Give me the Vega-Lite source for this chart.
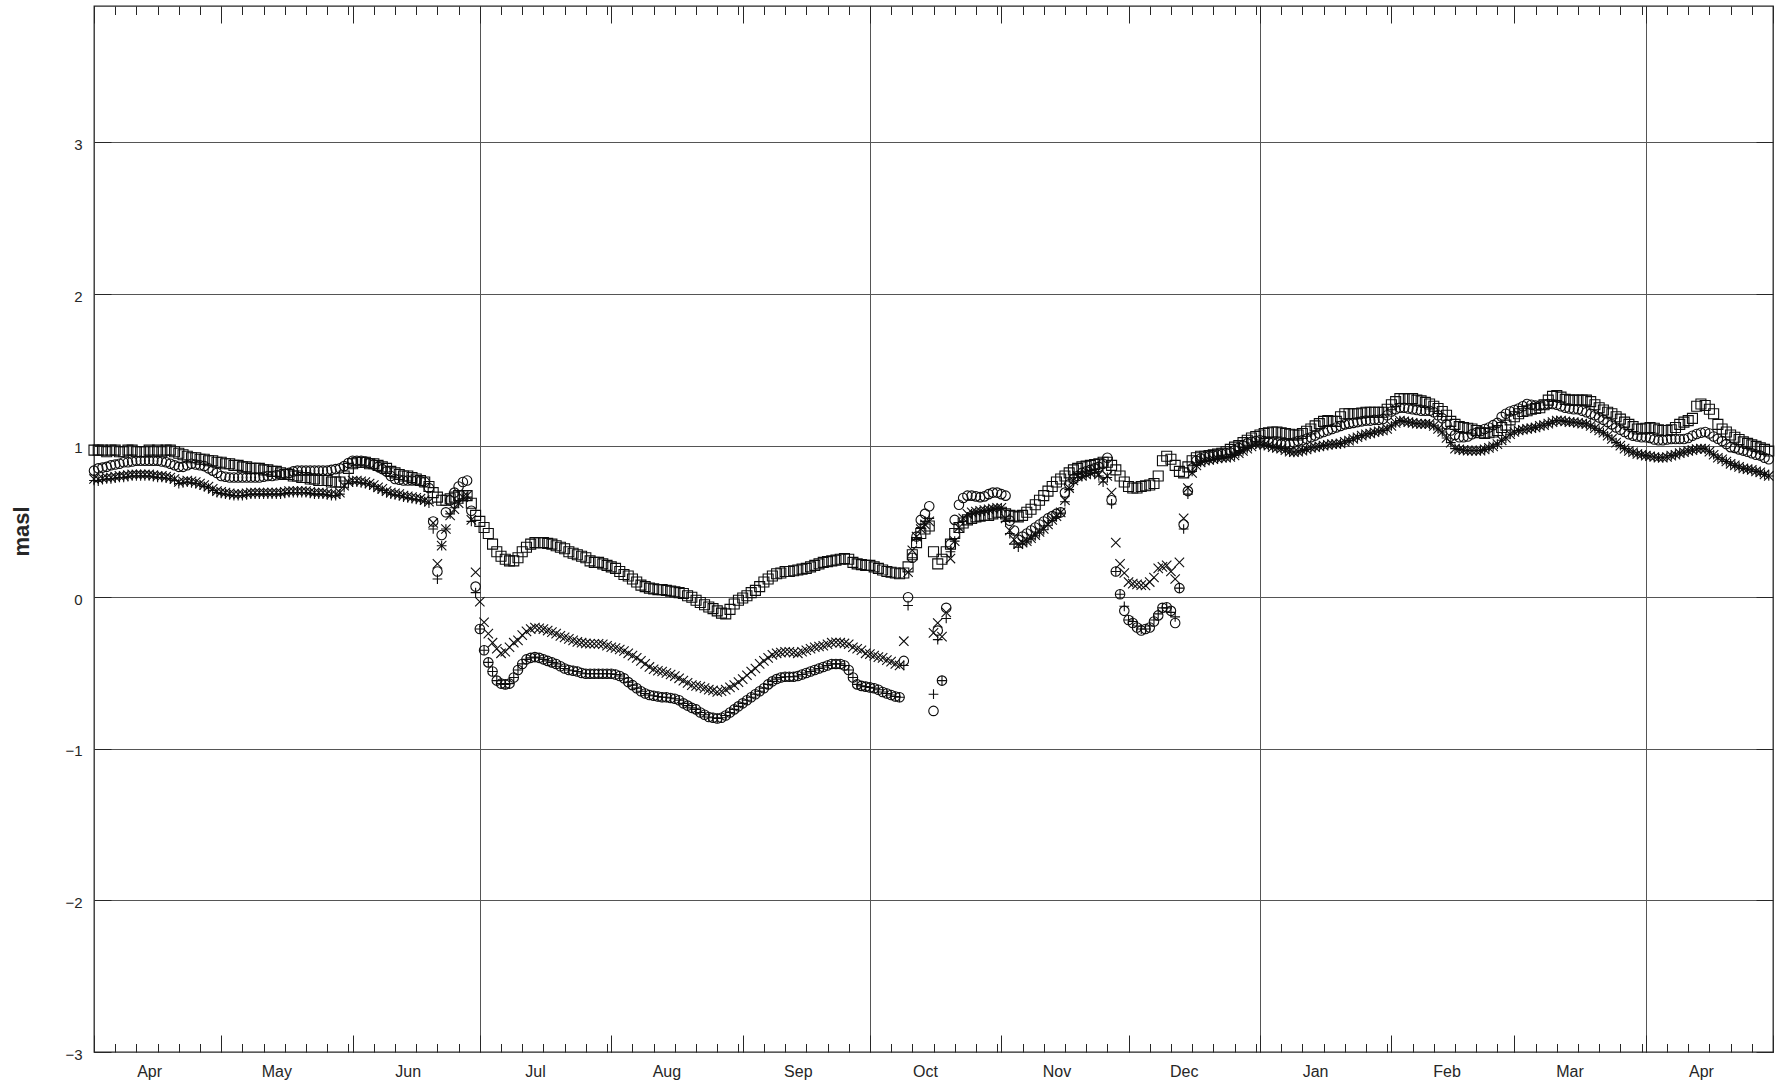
{
  "$schema": "https://vega.github.io/schema/vega-lite/v6.json",
  "width": 1679,
  "height": 1046,
  "autosize": {"type": "none"},
  "padding": {"left": 94, "top": 6, "right": 2, "bottom": 35},
  "background": "white",
  "config": {
    "view": {"stroke": "#262626", "strokeWidth": 1.3},
    "axis": {
      "labelFont": "Liberation Sans",
      "titleFont": "Liberation Sans",
      "labelColor": "#262626",
      "titleColor": "#262626",
      "tickColor": "#262626",
      "tickWidth": 1,
      "domain": false,
      "grid": false,
      "labels": false,
      "ticks": false
    }
  },
  "datasets": {
    "frame": [{"t": "2019-04-01", "v": 0}],
    "levels": [
      {"t":"2019-04-01","s":0.97,"c":0.835,"x":0.78,"p":0.77},
      {"t":"2019-04-02","s":0.97,"c":0.85,"x":0.78,"p":0.765},
      {"t":"2019-04-03","s":0.97,"c":0.855,"x":0.785,"p":0.775},
      {"t":"2019-04-04","s":0.96,"c":0.86,"x":0.79,"p":0.78},
      {"t":"2019-04-05","s":0.97,"c":0.87,"x":0.79,"p":0.78},
      {"t":"2019-04-06","s":0.97,"c":0.875,"x":0.795,"p":0.785},
      {"t":"2019-04-07","s":0.96,"c":0.88,"x":0.8,"p":0.79},
      {"t":"2019-04-08","s":0.96,"c":0.89,"x":0.8,"p":0.79},
      {"t":"2019-04-09","s":0.97,"c":0.89,"x":0.805,"p":0.795},
      {"t":"2019-04-10","s":0.97,"c":0.895,"x":0.81,"p":0.8},
      {"t":"2019-04-11","s":0.96,"c":0.9,"x":0.81,"p":0.8},
      {"t":"2019-04-12","s":0.96,"c":0.9,"x":0.81,"p":0.8},
      {"t":"2019-04-13","s":0.96,"c":0.9,"x":0.81,"p":0.8},
      {"t":"2019-04-14","s":0.97,"c":0.9,"x":0.81,"p":0.8},
      {"t":"2019-04-15","s":0.96,"c":0.9,"x":0.805,"p":0.795},
      {"t":"2019-04-16","s":0.97,"c":0.9,"x":0.8,"p":0.79},
      {"t":"2019-04-17","s":0.96,"c":0.895,"x":0.8,"p":0.79},
      {"t":"2019-04-18","s":0.97,"c":0.89,"x":0.795,"p":0.785},
      {"t":"2019-04-19","s":0.97,"c":0.88,"x":0.79,"p":0.78},
      {"t":"2019-04-20","s":0.96,"c":0.87,"x":0.78,"p":0.77},
      {"t":"2019-04-21","s":0.95,"c":0.86,"x":0.76,"p":0.75},
      {"t":"2019-04-22","s":0.94,"c":0.86,"x":0.765,"p":0.755},
      {"t":"2019-04-23","s":0.93,"c":0.87,"x":0.77,"p":0.76},
      {"t":"2019-04-24","s":0.92,"c":0.88,"x":0.765,"p":0.755},
      {"t":"2019-04-25","s":0.92,"c":0.875,"x":0.76,"p":0.75},
      {"t":"2019-04-26","s":0.91,"c":0.87,"x":0.75,"p":0.74},
      {"t":"2019-04-27","s":0.91,"c":0.865,"x":0.74,"p":0.73},
      {"t":"2019-04-28","s":0.9,"c":0.85,"x":0.73,"p":0.72},
      {"t":"2019-04-29","s":0.9,"c":0.835,"x":0.715,"p":0.705},
      {"t":"2019-04-30","s":0.89,"c":0.82,"x":0.7,"p":0.69},
      {"t":"2019-05-01","s":0.89,"c":0.8,"x":0.695,"p":0.685},
      {"t":"2019-05-02","s":0.88,"c":0.795,"x":0.69,"p":0.68},
      {"t":"2019-05-03","s":0.88,"c":0.79,"x":0.685,"p":0.675},
      {"t":"2019-05-04","s":0.87,"c":0.79,"x":0.68,"p":0.67},
      {"t":"2019-05-05","s":0.87,"c":0.79,"x":0.68,"p":0.67},
      {"t":"2019-05-06","s":0.86,"c":0.79,"x":0.68,"p":0.67},
      {"t":"2019-05-07","s":0.86,"c":0.79,"x":0.685,"p":0.675},
      {"t":"2019-05-08","s":0.85,"c":0.79,"x":0.69,"p":0.68},
      {"t":"2019-05-09","s":0.85,"c":0.79,"x":0.69,"p":0.68},
      {"t":"2019-05-10","s":0.85,"c":0.79,"x":0.69,"p":0.68},
      {"t":"2019-05-11","s":0.84,"c":0.795,"x":0.69,"p":0.68},
      {"t":"2019-05-12","s":0.84,"c":0.8,"x":0.69,"p":0.68},
      {"t":"2019-05-13","s":0.83,"c":0.8,"x":0.69,"p":0.68},
      {"t":"2019-05-14","s":0.83,"c":0.805,"x":0.69,"p":0.68},
      {"t":"2019-05-15","s":0.82,"c":0.81,"x":0.69,"p":0.68},
      {"t":"2019-05-16","s":0.81,"c":0.815,"x":0.695,"p":0.685},
      {"t":"2019-05-17","s":0.81,"c":0.82,"x":0.7,"p":0.69},
      {"t":"2019-05-18","s":0.8,"c":0.83,"x":0.7,"p":0.69},
      {"t":"2019-05-19","s":0.8,"c":0.835,"x":0.7,"p":0.69},
      {"t":"2019-05-20","s":0.79,"c":0.835,"x":0.7,"p":0.69},
      {"t":"2019-05-21","s":0.79,"c":0.835,"x":0.7,"p":0.69},
      {"t":"2019-05-22","s":0.78,"c":0.835,"x":0.695,"p":0.685},
      {"t":"2019-05-23","s":0.78,"c":0.835,"x":0.69,"p":0.68},
      {"t":"2019-05-24","s":0.77,"c":0.835,"x":0.69,"p":0.68},
      {"t":"2019-05-25","s":0.77,"c":0.835,"x":0.69,"p":0.68},
      {"t":"2019-05-26","s":0.77,"c":0.835,"x":0.685,"p":0.675},
      {"t":"2019-05-27","s":0.76,"c":0.84,"x":0.68,"p":0.67},
      {"t":"2019-05-28","s":0.76,"c":0.845,"x":0.68,"p":0.67},
      {"t":"2019-05-29","s":0.76,"c":0.85,"x":0.69,"p":0.68},
      {"t":"2019-05-30","s":0.8,"c":0.865,"x":0.735,"p":0.725},
      {"t":"2019-05-31","s":0.85,"c":0.885,"x":0.76,"p":0.75},
      {"t":"2019-06-01","s":0.88,"c":0.9,"x":0.77,"p":0.76},
      {"t":"2019-06-02","s":0.89,"c":0.9,"x":0.77,"p":0.76},
      {"t":"2019-06-03","s":0.89,"c":0.9,"x":0.765,"p":0.755},
      {"t":"2019-06-04","s":0.89,"c":0.895,"x":0.76,"p":0.75},
      {"t":"2019-06-05","s":0.88,"c":0.885,"x":0.75,"p":0.74},
      {"t":"2019-06-06","s":0.88,"c":0.875,"x":0.74,"p":0.73},
      {"t":"2019-06-07","s":0.87,"c":0.86,"x":0.725,"p":0.715},
      {"t":"2019-06-08","s":0.86,"c":0.845,"x":0.715,"p":0.705},
      {"t":"2019-06-09","s":0.85,"c":0.83,"x":0.7,"p":0.69},
      {"t":"2019-06-10","s":0.83,"c":0.8,"x":0.69,"p":0.68},
      {"t":"2019-06-11","s":0.82,"c":0.78,"x":0.685,"p":0.675},
      {"t":"2019-06-12","s":0.81,"c":0.775,"x":0.68,"p":0.67},
      {"t":"2019-06-13","s":0.8,"c":0.77,"x":0.67,"p":0.66},
      {"t":"2019-06-14","s":0.8,"c":0.77,"x":0.665,"p":0.655},
      {"t":"2019-06-15","s":0.79,"c":0.77,"x":0.66,"p":0.65},
      {"t":"2019-06-16","s":0.78,"c":0.77,"x":0.655,"p":0.645},
      {"t":"2019-06-17","s":0.77,"c":0.765,"x":0.65,"p":0.64},
      {"t":"2019-06-18","s":0.76,"c":0.76,"x":0.64,"p":0.63},
      {"t":"2019-06-19","s":0.73,"c":0.72,"x":0.63,"p":0.62},
      {"t":"2019-06-20","s":0.69,"c":0.5,"x":0.49,"p":0.45},
      {"t":"2019-06-21","s":0.66,"c":0.17,"x":0.22,"p":0.12},
      {"t":"2019-06-22","s":0.64,"c":0.41,"x":0.34,"p":0.34},
      {"t":"2019-06-23","s":0.64,"c":0.56,"x":0.45,"p":0.45},
      {"t":"2019-06-24","s":0.65,"c":0.64,"x":0.54,"p":0.55},
      {"t":"2019-06-25","s":0.66,"c":0.69,"x":0.58,"p":0.59},
      {"t":"2019-06-26","s":0.67,"c":0.73,"x":0.62,"p":0.62},
      {"t":"2019-06-27","s":0.67,"c":0.76,"x":0.66,"p":0.65},
      {"t":"2019-06-28","s":0.67,"c":0.77,"x":0.67,"p":0.66},
      {"t":"2019-06-29","s":0.62,"c":0.57,"x":0.51,"p":0.5},
      {"t":"2019-06-30","s":0.54,"c":0.07,"x":0.165,"p":0.03},
      {"t":"2019-07-01","s":0.5,"c":-0.21,"x":-0.03,"p":-0.21},
      {"t":"2019-07-02","s":0.46,"c":-0.35,"x":-0.165,"p":-0.35},
      {"t":"2019-07-03","s":0.42,"c":-0.43,"x":-0.24,"p":-0.43},
      {"t":"2019-07-04","s":0.35,"c":-0.49,"x":-0.3,"p":-0.49},
      {"t":"2019-07-05","s":0.3,"c":-0.55,"x":-0.34,"p":-0.55},
      {"t":"2019-07-06","s":0.27,"c":-0.57,"x":-0.37,"p":-0.57},
      {"t":"2019-07-07","s":0.25,"c":-0.575,"x":-0.36,"p":-0.575},
      {"t":"2019-07-08","s":0.24,"c":-0.57,"x":-0.33,"p":-0.57},
      {"t":"2019-07-09","s":0.24,"c":-0.53,"x":-0.3,"p":-0.53},
      {"t":"2019-07-10","s":0.26,"c":-0.48,"x":-0.285,"p":-0.48},
      {"t":"2019-07-11","s":0.3,"c":-0.44,"x":-0.25,"p":-0.44},
      {"t":"2019-07-12","s":0.33,"c":-0.41,"x":-0.225,"p":-0.41},
      {"t":"2019-07-13","s":0.35,"c":-0.4,"x":-0.21,"p":-0.4},
      {"t":"2019-07-14","s":0.36,"c":-0.395,"x":-0.2,"p":-0.395},
      {"t":"2019-07-15","s":0.36,"c":-0.4,"x":-0.205,"p":-0.4},
      {"t":"2019-07-16","s":0.36,"c":-0.41,"x":-0.21,"p":-0.41},
      {"t":"2019-07-17","s":0.355,"c":-0.42,"x":-0.22,"p":-0.42},
      {"t":"2019-07-18","s":0.35,"c":-0.43,"x":-0.23,"p":-0.43},
      {"t":"2019-07-19","s":0.34,"c":-0.44,"x":-0.24,"p":-0.44},
      {"t":"2019-07-20","s":0.33,"c":-0.455,"x":-0.255,"p":-0.455},
      {"t":"2019-07-21","s":0.32,"c":-0.47,"x":-0.265,"p":-0.47},
      {"t":"2019-07-22","s":0.3,"c":-0.48,"x":-0.275,"p":-0.48},
      {"t":"2019-07-23","s":0.29,"c":-0.485,"x":-0.285,"p":-0.485},
      {"t":"2019-07-24","s":0.28,"c":-0.49,"x":-0.295,"p":-0.49},
      {"t":"2019-07-25","s":0.27,"c":-0.5,"x":-0.3,"p":-0.5},
      {"t":"2019-07-26","s":0.26,"c":-0.505,"x":-0.305,"p":-0.505},
      {"t":"2019-07-27","s":0.24,"c":-0.505,"x":-0.307,"p":-0.505},
      {"t":"2019-07-28","s":0.23,"c":-0.505,"x":-0.307,"p":-0.505},
      {"t":"2019-07-29","s":0.23,"c":-0.505,"x":-0.307,"p":-0.505},
      {"t":"2019-07-30","s":0.22,"c":-0.505,"x":-0.31,"p":-0.505},
      {"t":"2019-07-31","s":0.21,"c":-0.505,"x":-0.32,"p":-0.505},
      {"t":"2019-08-01","s":0.2,"c":-0.505,"x":-0.33,"p":-0.505},
      {"t":"2019-08-02","s":0.19,"c":-0.51,"x":-0.335,"p":-0.51},
      {"t":"2019-08-03","s":0.17,"c":-0.52,"x":-0.345,"p":-0.52},
      {"t":"2019-08-04","s":0.15,"c":-0.535,"x":-0.355,"p":-0.535},
      {"t":"2019-08-05","s":0.14,"c":-0.56,"x":-0.37,"p":-0.56},
      {"t":"2019-08-06","s":0.12,"c":-0.58,"x":-0.385,"p":-0.58},
      {"t":"2019-08-07","s":0.1,"c":-0.6,"x":-0.4,"p":-0.6},
      {"t":"2019-08-08","s":0.08,"c":-0.62,"x":-0.42,"p":-0.62},
      {"t":"2019-08-09","s":0.07,"c":-0.635,"x":-0.44,"p":-0.635},
      {"t":"2019-08-10","s":0.06,"c":-0.645,"x":-0.46,"p":-0.645},
      {"t":"2019-08-11","s":0.055,"c":-0.65,"x":-0.475,"p":-0.65},
      {"t":"2019-08-12","s":0.05,"c":-0.655,"x":-0.485,"p":-0.655},
      {"t":"2019-08-13","s":0.05,"c":-0.66,"x":-0.49,"p":-0.66},
      {"t":"2019-08-14","s":0.045,"c":-0.66,"x":-0.5,"p":-0.66},
      {"t":"2019-08-15","s":0.04,"c":-0.665,"x":-0.51,"p":-0.665},
      {"t":"2019-08-16","s":0.035,"c":-0.67,"x":-0.52,"p":-0.67},
      {"t":"2019-08-17","s":0.03,"c":-0.68,"x":-0.535,"p":-0.68},
      {"t":"2019-08-18","s":0.025,"c":-0.7,"x":-0.55,"p":-0.7},
      {"t":"2019-08-19","s":0.01,"c":-0.715,"x":-0.565,"p":-0.715},
      {"t":"2019-08-20","s":0.0,"c":-0.73,"x":-0.58,"p":-0.73},
      {"t":"2019-08-21","s":-0.02,"c":-0.74,"x":-0.585,"p":-0.74},
      {"t":"2019-08-22","s":-0.035,"c":-0.76,"x":-0.59,"p":-0.76},
      {"t":"2019-08-23","s":-0.05,"c":-0.775,"x":-0.6,"p":-0.775},
      {"t":"2019-08-24","s":-0.065,"c":-0.79,"x":-0.61,"p":-0.79},
      {"t":"2019-08-25","s":-0.075,"c":-0.795,"x":-0.615,"p":-0.795},
      {"t":"2019-08-26","s":-0.09,"c":-0.8,"x":-0.625,"p":-0.8},
      {"t":"2019-08-27","s":-0.105,"c":-0.795,"x":-0.62,"p":-0.795},
      {"t":"2019-08-28","s":-0.11,"c":-0.78,"x":-0.61,"p":-0.78},
      {"t":"2019-08-29","s":-0.08,"c":-0.76,"x":-0.595,"p":-0.76},
      {"t":"2019-08-30","s":-0.045,"c":-0.74,"x":-0.58,"p":-0.74},
      {"t":"2019-08-31","s":-0.02,"c":-0.72,"x":-0.56,"p":-0.72},
      {"t":"2019-09-01","s":-0.005,"c":-0.7,"x":-0.54,"p":-0.7},
      {"t":"2019-09-02","s":0.01,"c":-0.68,"x":-0.515,"p":-0.68},
      {"t":"2019-09-03","s":0.03,"c":-0.66,"x":-0.49,"p":-0.66},
      {"t":"2019-09-04","s":0.045,"c":-0.64,"x":-0.47,"p":-0.64},
      {"t":"2019-09-05","s":0.07,"c":-0.62,"x":-0.44,"p":-0.62},
      {"t":"2019-09-06","s":0.1,"c":-0.6,"x":-0.42,"p":-0.6},
      {"t":"2019-09-07","s":0.12,"c":-0.575,"x":-0.4,"p":-0.575},
      {"t":"2019-09-08","s":0.14,"c":-0.555,"x":-0.38,"p":-0.555},
      {"t":"2019-09-09","s":0.155,"c":-0.54,"x":-0.37,"p":-0.54},
      {"t":"2019-09-10","s":0.16,"c":-0.53,"x":-0.365,"p":-0.53},
      {"t":"2019-09-11","s":0.17,"c":-0.525,"x":-0.36,"p":-0.525},
      {"t":"2019-09-12","s":0.17,"c":-0.525,"x":-0.36,"p":-0.525},
      {"t":"2019-09-13","s":0.175,"c":-0.525,"x":-0.365,"p":-0.525},
      {"t":"2019-09-14","s":0.18,"c":-0.52,"x":-0.37,"p":-0.52},
      {"t":"2019-09-15","s":0.185,"c":-0.51,"x":-0.36,"p":-0.51},
      {"t":"2019-09-16","s":0.19,"c":-0.5,"x":-0.35,"p":-0.5},
      {"t":"2019-09-17","s":0.2,"c":-0.49,"x":-0.34,"p":-0.49},
      {"t":"2019-09-18","s":0.21,"c":-0.48,"x":-0.33,"p":-0.48},
      {"t":"2019-09-19","s":0.22,"c":-0.47,"x":-0.325,"p":-0.47},
      {"t":"2019-09-20","s":0.23,"c":-0.46,"x":-0.32,"p":-0.46},
      {"t":"2019-09-21","s":0.235,"c":-0.45,"x":-0.31,"p":-0.45},
      {"t":"2019-09-22","s":0.24,"c":-0.44,"x":-0.3,"p":-0.44},
      {"t":"2019-09-23","s":0.245,"c":-0.44,"x":-0.297,"p":-0.44},
      {"t":"2019-09-24","s":0.25,"c":-0.44,"x":-0.3,"p":-0.44},
      {"t":"2019-09-25","s":0.255,"c":-0.45,"x":-0.305,"p":-0.45},
      {"t":"2019-09-26","s":0.25,"c":-0.48,"x":-0.31,"p":-0.48},
      {"t":"2019-09-27","s":0.23,"c":-0.53,"x":-0.33,"p":-0.53},
      {"t":"2019-09-28","s":0.22,"c":-0.575,"x":-0.34,"p":-0.575},
      {"t":"2019-09-29","s":0.215,"c":-0.585,"x":-0.35,"p":-0.585},
      {"t":"2019-09-30","s":0.21,"c":-0.59,"x":-0.37,"p":-0.59},
      {"t":"2019-10-01","s":0.21,"c":-0.595,"x":-0.375,"p":-0.595},
      {"t":"2019-10-02","s":0.2,"c":-0.6,"x":-0.385,"p":-0.6},
      {"t":"2019-10-03","s":0.19,"c":-0.61,"x":-0.395,"p":-0.61},
      {"t":"2019-10-04","s":0.18,"c":-0.625,"x":-0.4,"p":-0.625},
      {"t":"2019-10-05","s":0.17,"c":-0.635,"x":-0.415,"p":-0.635},
      {"t":"2019-10-06","s":0.165,"c":-0.645,"x":-0.425,"p":-0.645},
      {"t":"2019-10-07","s":0.16,"c":-0.655,"x":-0.44,"p":-0.655},
      {"t":"2019-10-08","s":0.155,"c":-0.66,"x":-0.45,"p":-0.66},
      {"t":"2019-10-09","s":0.16,"c":-0.42,"x":-0.29,"p":-0.45},
      {"t":"2019-10-10","s":0.2,"c":0.0,"x":0.165,"p":-0.055},
      {"t":"2019-10-11","s":0.28,"c":0.26,"x":0.31,"p":0.26},
      {"t":"2019-10-12","s":0.36,"c":0.4,"x":0.4,"p":0.38},
      {"t":"2019-10-13","s":0.42,"c":0.51,"x":0.45,"p":0.46},
      {"t":"2019-10-14","s":0.45,"c":0.55,"x":0.48,"p":0.5},
      {"t":"2019-10-15","s":0.47,"c":0.6,"x":0.5,"p":0.52},
      {"t":"2019-10-16","s":0.3,"c":-0.75,"x":-0.235,"p":-0.64},
      {"t":"2019-10-17","s":0.22,"c":-0.22,"x":-0.17,"p":-0.28},
      {"t":"2019-10-18","s":0.25,"c":-0.55,"x":-0.26,"p":-0.55},
      {"t":"2019-10-19","s":0.3,"c":-0.07,"x":-0.1,"p":-0.14},
      {"t":"2019-10-20","s":0.35,"c":0.35,"x":0.255,"p":0.3},
      {"t":"2019-10-21","s":0.42,"c":0.51,"x":0.37,"p":0.37},
      {"t":"2019-10-22","s":0.46,"c":0.61,"x":0.46,"p":0.45},
      {"t":"2019-10-23","s":0.49,"c":0.655,"x":0.52,"p":0.5},
      {"t":"2019-10-24","s":0.51,"c":0.67,"x":0.55,"p":0.53},
      {"t":"2019-10-25","s":0.52,"c":0.67,"x":0.56,"p":0.55},
      {"t":"2019-10-26","s":0.53,"c":0.665,"x":0.565,"p":0.56},
      {"t":"2019-10-27","s":0.535,"c":0.66,"x":0.57,"p":0.565},
      {"t":"2019-10-28","s":0.54,"c":0.665,"x":0.575,"p":0.57},
      {"t":"2019-10-29","s":0.54,"c":0.68,"x":0.58,"p":0.575},
      {"t":"2019-10-30","s":0.55,"c":0.69,"x":0.585,"p":0.58},
      {"t":"2019-10-31","s":0.56,"c":0.69,"x":0.59,"p":0.585},
      {"t":"2019-11-01","s":0.56,"c":0.68,"x":0.59,"p":0.585},
      {"t":"2019-11-02","s":0.55,"c":0.67,"x":0.52,"p":0.5},
      {"t":"2019-11-03","s":0.54,"c":0.505,"x":0.44,"p":0.42},
      {"t":"2019-11-04","s":0.535,"c":0.44,"x":0.38,"p":0.35},
      {"t":"2019-11-05","s":0.53,"c":0.38,"x":0.35,"p":0.33},
      {"t":"2019-11-06","s":0.54,"c":0.4,"x":0.36,"p":0.35},
      {"t":"2019-11-07","s":0.56,"c":0.42,"x":0.37,"p":0.365},
      {"t":"2019-11-08","s":0.58,"c":0.44,"x":0.39,"p":0.385},
      {"t":"2019-11-09","s":0.61,"c":0.46,"x":0.41,"p":0.405},
      {"t":"2019-11-10","s":0.64,"c":0.48,"x":0.43,"p":0.425},
      {"t":"2019-11-11","s":0.67,"c":0.5,"x":0.45,"p":0.445},
      {"t":"2019-11-12","s":0.7,"c":0.52,"x":0.48,"p":0.475},
      {"t":"2019-11-13","s":0.73,"c":0.535,"x":0.51,"p":0.505},
      {"t":"2019-11-14","s":0.76,"c":0.55,"x":0.535,"p":0.53},
      {"t":"2019-11-15","s":0.78,"c":0.56,"x":0.56,"p":0.555},
      {"t":"2019-11-16","s":0.8,"c":0.69,"x":0.64,"p":0.63},
      {"t":"2019-11-17","s":0.82,"c":0.745,"x":0.72,"p":0.71},
      {"t":"2019-11-18","s":0.84,"c":0.78,"x":0.77,"p":0.76},
      {"t":"2019-11-19","s":0.85,"c":0.8,"x":0.8,"p":0.79},
      {"t":"2019-11-20","s":0.86,"c":0.82,"x":0.8,"p":0.795},
      {"t":"2019-11-21","s":0.865,"c":0.83,"x":0.81,"p":0.805},
      {"t":"2019-11-22","s":0.87,"c":0.84,"x":0.82,"p":0.815},
      {"t":"2019-11-23","s":0.875,"c":0.85,"x":0.83,"p":0.82},
      {"t":"2019-11-24","s":0.88,"c":0.86,"x":0.81,"p":0.8},
      {"t":"2019-11-25","s":0.89,"c":0.88,"x":0.77,"p":0.76},
      {"t":"2019-11-26","s":0.89,"c":0.92,"x":0.8,"p":0.79},
      {"t":"2019-11-27","s":0.87,"c":0.64,"x":0.69,"p":0.615},
      {"t":"2019-11-28","s":0.84,"c":0.17,"x":0.36,"p":0.17},
      {"t":"2019-11-29","s":0.8,"c":0.02,"x":0.22,"p":0.02},
      {"t":"2019-11-30","s":0.76,"c":-0.09,"x":0.16,"p":-0.06},
      {"t":"2019-12-01","s":0.73,"c":-0.15,"x":0.1,"p":-0.15},
      {"t":"2019-12-02","s":0.72,"c":-0.17,"x":0.09,"p":-0.16},
      {"t":"2019-12-03","s":0.72,"c":-0.2,"x":0.085,"p":-0.19},
      {"t":"2019-12-04","s":0.73,"c":-0.22,"x":0.08,"p":-0.21},
      {"t":"2019-12-05","s":0.735,"c":-0.21,"x":0.077,"p":-0.21},
      {"t":"2019-12-06","s":0.74,"c":-0.2,"x":0.1,"p":-0.19},
      {"t":"2019-12-07","s":0.75,"c":-0.16,"x":0.13,"p":-0.15},
      {"t":"2019-12-08","s":0.8,"c":-0.12,"x":0.19,"p":-0.11},
      {"t":"2019-12-09","s":0.9,"c":-0.07,"x":0.2,"p":-0.07},
      {"t":"2019-12-10","s":0.93,"c":-0.066,"x":0.21,"p":-0.07},
      {"t":"2019-12-11","s":0.91,"c":-0.09,"x":0.17,"p":-0.1},
      {"t":"2019-12-12","s":0.87,"c":-0.17,"x":0.12,"p":-0.13},
      {"t":"2019-12-13","s":0.83,"c":0.06,"x":0.23,"p":0.06},
      {"t":"2019-12-14","s":0.82,"c":0.48,"x":0.52,"p":0.45},
      {"t":"2019-12-15","s":0.86,"c":0.7,"x":0.72,"p":0.68},
      {"t":"2019-12-16","s":0.9,"c":0.85,"x":0.82,"p":0.83},
      {"t":"2019-12-17","s":0.92,"c":0.9,"x":0.87,"p":0.87},
      {"t":"2019-12-18","s":0.93,"c":0.915,"x":0.89,"p":0.89},
      {"t":"2019-12-19","s":0.93,"c":0.925,"x":0.9,"p":0.9},
      {"t":"2019-12-20","s":0.935,"c":0.93,"x":0.905,"p":0.905},
      {"t":"2019-12-21","s":0.94,"c":0.935,"x":0.91,"p":0.91},
      {"t":"2019-12-22","s":0.945,"c":0.94,"x":0.915,"p":0.915},
      {"t":"2019-12-23","s":0.95,"c":0.945,"x":0.92,"p":0.92},
      {"t":"2019-12-24","s":0.96,"c":0.95,"x":0.92,"p":0.92},
      {"t":"2019-12-25","s":0.975,"c":0.955,"x":0.925,"p":0.925},
      {"t":"2019-12-26","s":0.99,"c":0.97,"x":0.935,"p":0.935},
      {"t":"2019-12-27","s":1.0,"c":0.985,"x":0.95,"p":0.95},
      {"t":"2019-12-28","s":1.02,"c":1.0,"x":0.965,"p":0.965},
      {"t":"2019-12-29","s":1.035,"c":1.015,"x":0.98,"p":0.98},
      {"t":"2019-12-30","s":1.05,"c":1.025,"x":0.995,"p":0.995},
      {"t":"2019-12-31","s":1.06,"c":1.03,"x":1.01,"p":1.01},
      {"t":"2020-01-01","s":1.07,"c":1.035,"x":1.01,"p":1.01},
      {"t":"2020-01-02","s":1.08,"c":1.03,"x":1.005,"p":1.005},
      {"t":"2020-01-03","s":1.085,"c":1.025,"x":1.0,"p":1.0},
      {"t":"2020-01-04","s":1.09,"c":1.02,"x":0.99,"p":0.99},
      {"t":"2020-01-05","s":1.09,"c":1.015,"x":0.985,"p":0.985},
      {"t":"2020-01-06","s":1.085,"c":1.01,"x":0.98,"p":0.98},
      {"t":"2020-01-07","s":1.08,"c":1.01,"x":0.97,"p":0.97},
      {"t":"2020-01-08","s":1.075,"c":1.01,"x":0.96,"p":0.96},
      {"t":"2020-01-09","s":1.07,"c":1.02,"x":0.956,"p":0.956},
      {"t":"2020-01-10","s":1.07,"c":1.03,"x":0.96,"p":0.96},
      {"t":"2020-01-11","s":1.08,"c":1.035,"x":0.967,"p":0.967},
      {"t":"2020-01-12","s":1.095,"c":1.045,"x":0.975,"p":0.975},
      {"t":"2020-01-13","s":1.11,"c":1.055,"x":0.985,"p":0.985},
      {"t":"2020-01-14","s":1.13,"c":1.066,"x":0.99,"p":0.99},
      {"t":"2020-01-15","s":1.145,"c":1.08,"x":0.995,"p":0.995},
      {"t":"2020-01-16","s":1.16,"c":1.09,"x":1.0,"p":1.0},
      {"t":"2020-01-17","s":1.165,"c":1.1,"x":1.005,"p":1.005},
      {"t":"2020-01-18","s":1.16,"c":1.11,"x":1.01,"p":1.01},
      {"t":"2020-01-19","s":1.16,"c":1.12,"x":1.01,"p":1.01},
      {"t":"2020-01-20","s":1.19,"c":1.13,"x":1.015,"p":1.015},
      {"t":"2020-01-21","s":1.21,"c":1.14,"x":1.025,"p":1.025},
      {"t":"2020-01-22","s":1.21,"c":1.145,"x":1.033,"p":1.033},
      {"t":"2020-01-23","s":1.21,"c":1.15,"x":1.045,"p":1.045},
      {"t":"2020-01-24","s":1.21,"c":1.155,"x":1.055,"p":1.055},
      {"t":"2020-01-25","s":1.215,"c":1.16,"x":1.066,"p":1.066},
      {"t":"2020-01-26","s":1.22,"c":1.165,"x":1.075,"p":1.075},
      {"t":"2020-01-27","s":1.22,"c":1.165,"x":1.08,"p":1.08},
      {"t":"2020-01-28","s":1.22,"c":1.17,"x":1.088,"p":1.088},
      {"t":"2020-01-29","s":1.22,"c":1.17,"x":1.095,"p":1.095},
      {"t":"2020-01-30","s":1.22,"c":1.175,"x":1.1,"p":1.1},
      {"t":"2020-01-31","s":1.24,"c":1.2,"x":1.11,"p":1.11},
      {"t":"2020-02-01","s":1.27,"c":1.225,"x":1.13,"p":1.13},
      {"t":"2020-02-02","s":1.29,"c":1.24,"x":1.15,"p":1.15},
      {"t":"2020-02-03","s":1.31,"c":1.25,"x":1.165,"p":1.165},
      {"t":"2020-02-04","s":1.31,"c":1.25,"x":1.16,"p":1.16},
      {"t":"2020-02-05","s":1.31,"c":1.245,"x":1.155,"p":1.155},
      {"t":"2020-02-06","s":1.31,"c":1.24,"x":1.15,"p":1.15},
      {"t":"2020-02-07","s":1.3,"c":1.235,"x":1.145,"p":1.145},
      {"t":"2020-02-08","s":1.295,"c":1.23,"x":1.143,"p":1.143},
      {"t":"2020-02-09","s":1.285,"c":1.23,"x":1.143,"p":1.143},
      {"t":"2020-02-10","s":1.275,"c":1.23,"x":1.143,"p":1.143},
      {"t":"2020-02-11","s":1.26,"c":1.22,"x":1.13,"p":1.13},
      {"t":"2020-02-12","s":1.245,"c":1.2,"x":1.11,"p":1.11},
      {"t":"2020-02-13","s":1.225,"c":1.18,"x":1.09,"p":1.09},
      {"t":"2020-02-14","s":1.2,"c":1.14,"x":1.05,"p":1.05},
      {"t":"2020-02-15","s":1.16,"c":1.1,"x":1.02,"p":1.02},
      {"t":"2020-02-16","s":1.14,"c":1.07,"x":0.98,"p":0.98},
      {"t":"2020-02-17","s":1.125,"c":1.055,"x":0.975,"p":0.975},
      {"t":"2020-02-18","s":1.12,"c":1.055,"x":0.97,"p":0.97},
      {"t":"2020-02-19","s":1.115,"c":1.06,"x":0.967,"p":0.967},
      {"t":"2020-02-20","s":1.11,"c":1.075,"x":0.967,"p":0.967},
      {"t":"2020-02-21","s":1.1,"c":1.085,"x":0.967,"p":0.967},
      {"t":"2020-02-22","s":1.085,"c":1.095,"x":0.967,"p":0.967},
      {"t":"2020-02-23","s":1.08,"c":1.11,"x":0.975,"p":0.975},
      {"t":"2020-02-24","s":1.085,"c":1.12,"x":0.985,"p":0.985},
      {"t":"2020-02-25","s":1.09,"c":1.135,"x":0.995,"p":0.995},
      {"t":"2020-02-26","s":1.1,"c":1.15,"x":1.01,"p":1.01},
      {"t":"2020-02-27","s":1.12,"c":1.19,"x":1.035,"p":1.035},
      {"t":"2020-02-28","s":1.135,"c":1.21,"x":1.05,"p":1.05},
      {"t":"2020-02-29","s":1.17,"c":1.225,"x":1.075,"p":1.075},
      {"t":"2020-03-01","s":1.19,"c":1.235,"x":1.09,"p":1.09},
      {"t":"2020-03-02","s":1.21,"c":1.245,"x":1.1,"p":1.1},
      {"t":"2020-03-03","s":1.225,"c":1.26,"x":1.105,"p":1.105},
      {"t":"2020-03-04","s":1.23,"c":1.275,"x":1.11,"p":1.11},
      {"t":"2020-03-05","s":1.24,"c":1.27,"x":1.115,"p":1.115},
      {"t":"2020-03-06","s":1.245,"c":1.265,"x":1.12,"p":1.12},
      {"t":"2020-03-07","s":1.25,"c":1.265,"x":1.13,"p":1.13},
      {"t":"2020-03-08","s":1.27,"c":1.27,"x":1.135,"p":1.135},
      {"t":"2020-03-09","s":1.3,"c":1.275,"x":1.145,"p":1.145},
      {"t":"2020-03-10","s":1.325,"c":1.275,"x":1.155,"p":1.155},
      {"t":"2020-03-11","s":1.33,"c":1.27,"x":1.165,"p":1.165},
      {"t":"2020-03-12","s":1.32,"c":1.26,"x":1.165,"p":1.165},
      {"t":"2020-03-13","s":1.305,"c":1.25,"x":1.16,"p":1.16},
      {"t":"2020-03-14","s":1.3,"c":1.245,"x":1.155,"p":1.155},
      {"t":"2020-03-15","s":1.3,"c":1.24,"x":1.155,"p":1.155},
      {"t":"2020-03-16","s":1.3,"c":1.24,"x":1.15,"p":1.15},
      {"t":"2020-03-17","s":1.3,"c":1.23,"x":1.145,"p":1.145},
      {"t":"2020-03-18","s":1.3,"c":1.22,"x":1.143,"p":1.143},
      {"t":"2020-03-19","s":1.29,"c":1.21,"x":1.13,"p":1.13},
      {"t":"2020-03-20","s":1.27,"c":1.2,"x":1.115,"p":1.115},
      {"t":"2020-03-21","s":1.25,"c":1.185,"x":1.1,"p":1.1},
      {"t":"2020-03-22","s":1.235,"c":1.17,"x":1.085,"p":1.085},
      {"t":"2020-03-23","s":1.22,"c":1.155,"x":1.065,"p":1.065},
      {"t":"2020-03-24","s":1.21,"c":1.14,"x":1.044,"p":1.044},
      {"t":"2020-03-25","s":1.19,"c":1.12,"x":1.02,"p":1.02},
      {"t":"2020-03-26","s":1.175,"c":1.105,"x":1.0,"p":1.0},
      {"t":"2020-03-27","s":1.155,"c":1.09,"x":0.98,"p":0.98},
      {"t":"2020-03-28","s":1.14,"c":1.075,"x":0.965,"p":0.965},
      {"t":"2020-03-29","s":1.125,"c":1.065,"x":0.956,"p":0.956},
      {"t":"2020-03-30","s":1.11,"c":1.06,"x":0.945,"p":0.945},
      {"t":"2020-03-31","s":1.11,"c":1.055,"x":0.94,"p":0.94},
      {"t":"2020-04-01","s":1.115,"c":1.055,"x":0.934,"p":0.934},
      {"t":"2020-04-02","s":1.12,"c":1.05,"x":0.93,"p":0.93},
      {"t":"2020-04-03","s":1.115,"c":1.04,"x":0.925,"p":0.925},
      {"t":"2020-04-04","s":1.105,"c":1.035,"x":0.92,"p":0.92},
      {"t":"2020-04-05","s":1.1,"c":1.035,"x":0.92,"p":0.92},
      {"t":"2020-04-06","s":1.1,"c":1.04,"x":0.925,"p":0.925},
      {"t":"2020-04-07","s":1.105,"c":1.044,"x":0.934,"p":0.934},
      {"t":"2020-04-08","s":1.12,"c":1.044,"x":0.94,"p":0.94},
      {"t":"2020-04-09","s":1.14,"c":1.044,"x":0.95,"p":0.95},
      {"t":"2020-04-10","s":1.155,"c":1.044,"x":0.956,"p":0.956},
      {"t":"2020-04-11","s":1.165,"c":1.05,"x":0.965,"p":0.965},
      {"t":"2020-04-12","s":1.18,"c":1.065,"x":0.97,"p":0.97},
      {"t":"2020-04-13","s":1.26,"c":1.077,"x":0.978,"p":0.978},
      {"t":"2020-04-14","s":1.275,"c":1.085,"x":0.98,"p":0.98},
      {"t":"2020-04-15","s":1.265,"c":1.09,"x":0.978,"p":0.978},
      {"t":"2020-04-16","s":1.24,"c":1.08,"x":0.96,"p":0.96},
      {"t":"2020-04-17","s":1.21,"c":1.06,"x":0.94,"p":0.94},
      {"t":"2020-04-18","s":1.14,"c":1.045,"x":0.92,"p":0.92},
      {"t":"2020-04-19","s":1.11,"c":1.03,"x":0.91,"p":0.91},
      {"t":"2020-04-20","s":1.09,"c":1.01,"x":0.895,"p":0.895},
      {"t":"2020-04-21","s":1.07,"c":0.99,"x":0.88,"p":0.88},
      {"t":"2020-04-22","s":1.055,"c":0.985,"x":0.87,"p":0.87},
      {"t":"2020-04-23","s":1.04,"c":0.975,"x":0.86,"p":0.86},
      {"t":"2020-04-24","s":1.025,"c":0.967,"x":0.85,"p":0.85},
      {"t":"2020-04-25","s":1.015,"c":0.96,"x":0.845,"p":0.845},
      {"t":"2020-04-26","s":1.005,"c":0.95,"x":0.84,"p":0.84},
      {"t":"2020-04-27","s":0.995,"c":0.94,"x":0.83,"p":0.83},
      {"t":"2020-04-28","s":0.985,"c":0.934,"x":0.824,"p":0.824},
      {"t":"2020-04-29","s":0.975,"c":0.92,"x":0.81,"p":0.81},
      {"t":"2020-04-30","s":0.965,"c":0.91,"x":0.8,"p":0.8}
    ]
  },
  "layer": [
    {
      "data": {"name": "frame"},
      "mark": {"type": "point", "opacity": 0},
      "encoding": {
        "x": {"field": "t", "type": "temporal",
          "scale": {"type": "utc", "domain": [{"year": 2019, "month": 4, "date": 1, "utc": true}, {"year": 2020, "month": 5, "date": 1, "utc": true}]},
          "axis": {"orient": "bottom", "title": null, "grid": true, "gridColor": "#555555", "gridWidth": 1,
            "values": [{"year": 2019, "month": 7, "date": 1, "utc": true}, {"year": 2019, "month": 10, "date": 1, "utc": true}, {"year": 2020, "month": 1, "date": 1, "utc": true}, {"year": 2020, "month": 4, "date": 1, "utc": true}]}},
        "y": {"field": "v", "type": "quantitative",
          "scale": {"domain": [-3, 3.9], "nice": false, "zero": false},
          "axis": {"orient": "left", "title": null, "grid": true, "gridColor": "#555555", "gridWidth": 1, "values": [-2, -1, 0, 1, 2, 3]}}
      }
    },
    {
      "data": {"name": "frame"},
      "mark": {"type": "point", "opacity": 0},
      "encoding": {
        "x": {"field": "t", "type": "temporal",
          "axis": {"orient": "bottom", "title": null, "ticks": true, "tickSize": -8.5, "tickCount": {"interval": "day", "step": 5}}},
        "y": {"field": "v", "type": "quantitative",
          "axis": {"orient": "left", "values": [-3, -2, -1, 0, 1, 2, 3], "format": "d", "labels": true, "labelFontSize": 15, "labelPadding": 12, "labelOffset": 2,
            "title": "masl", "titleFontSize": 22, "titleFontWeight": "bold", "titleAngle": 270, "titleBaseline": "alphabetic", "titleAlign": "center", "titleX": -66, "titleY": 525}}
      }
    },
    {
      "data": {"name": "frame"},
      "mark": {"type": "point", "opacity": 0},
      "encoding": {
        "x": {"field": "t", "type": "temporal",
          "axis": {"orient": "bottom", "title": null, "ticks": true, "tickSize": -17, "tickCount": {"interval": "month", "step": 1}}},
        "y": {"field": "v", "type": "quantitative",
          "axis": {"orient": "left", "title": null, "ticks": true, "tickSize": -17, "values": [-3, -2, -1, 0, 1, 2, 3]}}
      }
    },
    {
      "data": {"name": "frame"},
      "mark": {"type": "point", "opacity": 0},
      "encoding": {
        "x": {"field": "t", "type": "temporal",
          "axis": {"orient": "bottom", "title": null, "labels": true, "labelExpr": "utcFormat(datum.value, '%b')", "labelFontSize": 16, "labelPadding": 11, "labelAlign": "center",
            "values": [
              {"year": 2019, "month": 4, "date": 14, "utc": true}, {"year": 2019, "month": 5, "date": 14, "utc": true},
              {"year": 2019, "month": 6, "date": 14, "utc": true}, {"year": 2019, "month": 7, "date": 14, "utc": true},
              {"year": 2019, "month": 8, "date": 14, "utc": true}, {"year": 2019, "month": 9, "date": 14, "utc": true},
              {"year": 2019, "month": 10, "date": 14, "utc": true}, {"year": 2019, "month": 11, "date": 14, "utc": true},
              {"year": 2019, "month": 12, "date": 14, "utc": true}, {"year": 2020, "month": 1, "date": 14, "utc": true},
              {"year": 2020, "month": 2, "date": 14, "utc": true}, {"year": 2020, "month": 3, "date": 14, "utc": true},
              {"year": 2020, "month": 4, "date": 14, "utc": true}]}},
        "y": {"field": "v", "type": "quantitative",
          "axis": {"orient": "right", "title": null, "ticks": true, "tickSize": -17, "values": [-3, -2, -1, 0, 1, 2, 3]}}
      }
    },
    {
      "data": {"name": "frame"},
      "mark": {"type": "point", "opacity": 0},
      "encoding": {
        "x": {"field": "t", "type": "temporal",
          "axis": {"orient": "top", "title": null, "ticks": true, "tickSize": -8.5, "tickCount": {"interval": "day", "step": 5}}},
        "y": {"field": "v", "type": "quantitative", "axis": null}
      }
    },
    {
      "data": {"name": "frame"},
      "mark": {"type": "point", "opacity": 0},
      "encoding": {
        "x": {"field": "t", "type": "temporal",
          "axis": {"orient": "top", "title": null, "ticks": true, "tickSize": -17, "tickCount": {"interval": "month", "step": 1}}},
        "y": {"field": "v", "type": "quantitative", "axis": null}
      }
    },
    {
      "data": {"name": "levels"},
      "mark": {"type": "point", "shape": "square", "size": 100, "filled": false, "stroke": "#0d0d0d", "strokeWidth": 1.1, "opacity": 1},
      "encoding": {
        "x": {"field": "t", "type": "temporal", "axis": null},
        "y": {"field": "s", "type": "quantitative", "axis": null}
      }
    },
    {
      "data": {"name": "levels"},
      "mark": {"type": "point", "shape": "circle", "size": 90, "filled": false, "stroke": "#0d0d0d", "strokeWidth": 1.1, "opacity": 1},
      "encoding": {
        "x": {"field": "t", "type": "temporal", "axis": null},
        "y": {"field": "c", "type": "quantitative", "axis": null}
      }
    },
    {
      "data": {"name": "levels"},
      "mark": {"type": "point", "shape": "M-1,-1L1,1M-1,1L1,-1", "size": 88, "filled": false, "stroke": "#0d0d0d", "strokeWidth": 1.1, "opacity": 1},
      "encoding": {
        "x": {"field": "t", "type": "temporal", "axis": null},
        "y": {"field": "x", "type": "quantitative", "axis": null}
      }
    },
    {
      "data": {"name": "levels"},
      "mark": {"type": "point", "shape": "M-1,0L1,0M0,-1L0,1", "size": 95, "filled": false, "stroke": "#0d0d0d", "strokeWidth": 1.1, "opacity": 1},
      "encoding": {
        "x": {"field": "t", "type": "temporal", "axis": null},
        "y": {"field": "p", "type": "quantitative", "axis": null}
      }
    }
  ],
  "resolve": {"axis": {"x": "independent", "y": "independent"}}
}
